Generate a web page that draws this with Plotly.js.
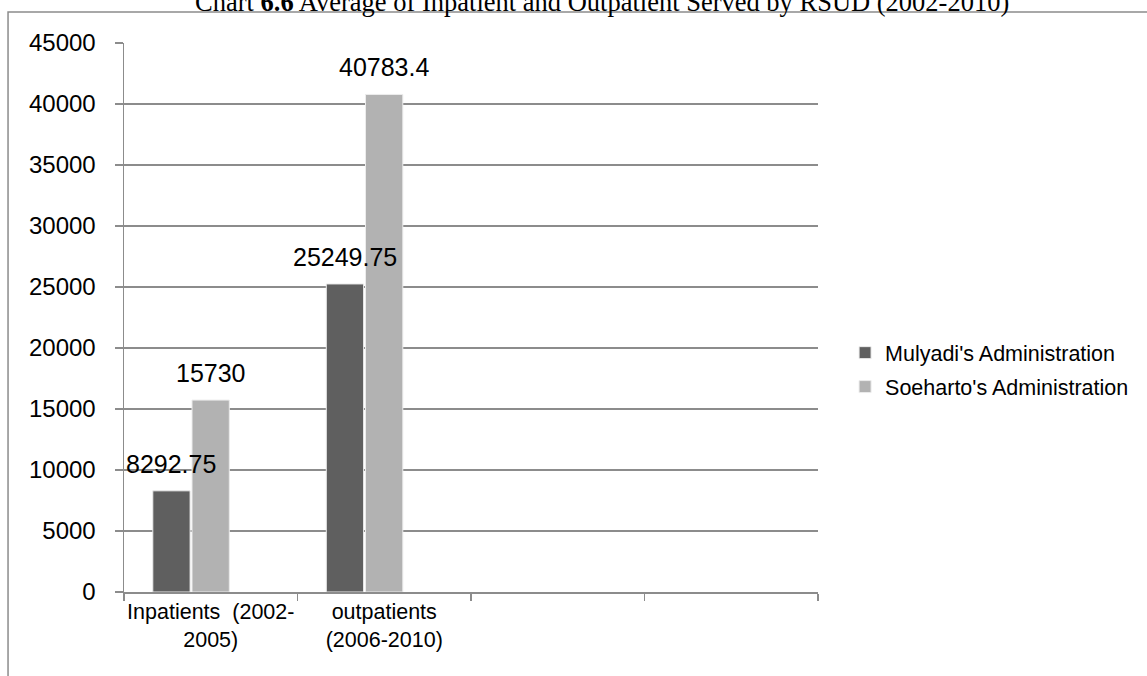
<!DOCTYPE html>
<html>
<head>
<meta charset="utf-8">
<script src="https://cdn.plot.ly/plotly-3.0.1.min.js"></script>
<style>html,body{margin:0;padding:0;background:#fff;}#chart{width:1147px;height:676px;}</style>
</head>
<body>
<div id="chart"></div>
<script>
// ---- data ----
const categories = ["Inpatients  (2002-<br>2005)", "outpatients<br>(2006-2010)", " ", "  "];
const seriesNames = ["Mulyadi's Administration", "Soeharto's Administration"];
const mulyadi = [8292.75, 25249.75, null, null];
const soeharto = [15730, 40783.4, null, null];
const yTicks = [0, 5000, 10000, 15000, 20000, 25000, 30000, 35000, 40000, 45000];

// ---- styling ----
const grey = '#8c8c8c';
const sans = '"Liberation Sans", Arial, sans-serif';
const barW = 0.215;
const offsets = [-0.334, -0.108];
const colors = ['#5f5f5f', '#b2b2b2'];
const seriesVals = [mulyadi, soeharto];

const traces = seriesVals.map((vals, k) => ({
  type: 'bar',
  name: seriesNames[k],
  legendgroup: 'g' + k,
  x: categories,
  y: vals,
  width: barW,
  offset: offsets[k],
  marker: {color: colors[k], line: {color: '#ececec', width: 1}},
  hoverinfo: 'skip'
}));

const annotations = [];
seriesVals.forEach((vals, k) => {
  vals.forEach((v, i) => {
    if (v === null) return;
    annotations.push({
      x: i + offsets[k] + barW / 2, y: v, xref: 'x', yref: 'y',
      text: String(v), showarrow: false, yanchor: 'middle', yshift: 27,
      font: {family: sans, size: 25, color: '#000'}
    });
  });
});

const layout = {
  width: 1147, height: 676,
  margin: {l: 124, r: 329, t: 43, b: 84},
  paper_bgcolor: '#fff', plot_bgcolor: '#fff',
  showlegend: true,
  barmode: 'overlay',
  title: {
    text: 'Chart <b>6.6</b> Average of Inpatient and Outpatient Served by RSUD (2002-2010)',
    x: 0.525, xanchor: 'center', xref: 'container', y: 0.998, yanchor: 'middle', yref: 'container',
    font: {family: '"Liberation Serif", "Times New Roman", serif', size: 26.5, color: '#000'}
  },
  xaxis: {
    type: 'category', categoryorder: 'array', categoryarray: categories,
    range: [-0.5, 3.5], tickson: 'boundaries', ticks: 'outside', ticklen: 7, tickwidth: 1.5,
    tickcolor: grey, showline: true, linecolor: grey, linewidth: 1.5, showgrid: false,
    tickangle: 0, automargin: false,
    tickfont: {family: sans, size: 21.5, color: '#000'}, fixedrange: true, zeroline: false
  },
  yaxis: {
    range: [0, 45000], tickvals: yTicks, ticktext: yTicks.map(String),
    ticks: 'outside', ticklen: 8, tickwidth: 1.5, tickcolor: grey,
    showline: true, linecolor: grey, linewidth: 1.5,
    showgrid: true, gridcolor: grey, gridwidth: 1.5, zeroline: false,
    ticklabelstandoff: 14, automargin: false,
    tickfont: {family: sans, size: 24, color: '#000'}, fixedrange: true
  },
  legend: {
    x: 1.039, xanchor: 'left', y: 0.405, yanchor: 'middle',
    font: {family: sans, size: 21.5, color: '#000'},
    bgcolor: 'rgba(0,0,0,0)', traceorder: 'grouped', tracegroupgap: 3
  },
  annotations: annotations,
  shapes: [{
    type: 'rect', xref: 'paper', yref: 'paper',
    x0: -0.1671, x1: 1.6, y0: -0.5, y1: 1.0565,
    line: {color: grey, width: 1.5}, fillcolor: 'rgba(0,0,0,0)', layer: 'below'
  }]
};

Plotly.newPlot('chart', traces, layout, {displayModeBar: false, staticPlot: true});
</script>
</body>
</html>
